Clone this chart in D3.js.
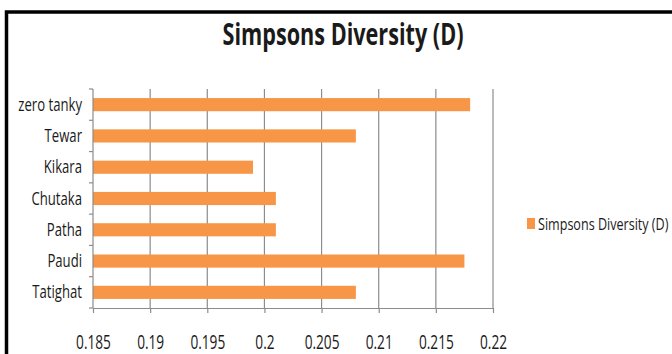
<!DOCTYPE html>
<html>
<head>
<meta charset="utf-8">
<script src="https://cdn.jsdelivr.net/npm/d3@7"></script>
<style>
  html, body { margin: 0; padding: 0; background: #fff; }
  svg { display: block; }
  text { font-family: "Open Sans", "DejaVu Sans", sans-serif; fill: #1a1a1a; }
</style>
</head>
<body>
<svg id="chart" width="672" height="354"></svg>
<script>
// Sites, top to bottom
const categories = ["zero tanky", "Tewar", "Kikara", "Chutaka", "Patha", "Paudi", "Tatighat"];
// Simpson's diversity index per site
const values = [0.218, 0.208, 0.199, 0.201, 0.201, 0.2175, 0.208];
const tickValues = [0.185, 0.19, 0.195, 0.2, 0.205, 0.21, 0.215, 0.22];
const tickLabels = ["0.185", "0.19", "0.195", "0.2", "0.205", "0.21", "0.215", "0.22"];
const seriesName = "Simpsons Diversity (D)";
const titleText = "Simpsons Diversity (D)";

const W = 672, H = 354;
const margin = { left: 93, top: 89, right: 179, bottom: 46 };
const orange = "#F79646";
const gridColor = "#8c8c8c";

// narrow the glyphs of a text selection to a fraction of their natural width
function condense(sel, factor) {
  sel.each(function () {
    const w = this.getComputedTextLength();
    d3.select(this).attr("textLength", w * factor).attr("lengthAdjust", "spacingAndGlyphs");
  });
}

const svg = d3.select("#chart");

// outer frame (runs off the right and bottom edges)
svg.append("rect")
  .attr("x", 6.5).attr("y", 12)
  .attr("width", 800).attr("height", 500)
  .attr("fill", "none").attr("stroke", "#000").attr("stroke-width", 3.5);

const x = d3.scaleLinear().domain([0.185, 0.22]).range([margin.left, W - margin.right]);
const y = d3.scaleBand().domain(categories).range([margin.top, H - margin.bottom]).paddingInner(0.58).paddingOuter(0.29);
const yEdges = d3.scaleLinear().domain([0, categories.length]).range([margin.top, H - margin.bottom]);

// vertical gridlines
svg.append("g").selectAll("line")
  .data(tickValues.slice(1))
  .join("line")
  .attr("x1", d => x(d)).attr("x2", d => x(d))
  .attr("y1", margin.top).attr("y2", H - margin.bottom)
  .attr("stroke", gridColor).attr("stroke-width", 1.2);

// bars
svg.append("g").selectAll("rect")
  .data(categories)
  .join("rect")
  .attr("x", x(0.185))
  .attr("y", d => y(d))
  .attr("width", (d, i) => x(values[i]) - x(0.185))
  .attr("height", y.bandwidth())
  .attr("fill", orange);

// x axis
const xAxis = d3.axisBottom(x)
  .tickValues(tickValues)
  .tickFormat((d, i) => tickLabels[i])
  .tickSizeInner(5).tickSizeOuter(0);
const gx = svg.append("g").attr("transform", `translate(0,${H - margin.bottom})`).call(xAxis);
gx.select(".domain").attr("stroke", gridColor).attr("stroke-width", 1.2);
gx.selectAll(".tick line").attr("stroke", gridColor).attr("stroke-width", 1.2);
gx.selectAll(".tick text")
  .attr("y", 34).attr("dy", "0.35em")
  .style("font-family", "'Open Sans', sans-serif")
  .style("font-size", "19.5px").attr("fill", "#1a1a1a")
  .call(condense, 0.7);

// y axis: line with tick marks at category boundaries
const gy = svg.append("g");
gy.append("line")
  .attr("x1", margin.left).attr("x2", margin.left)
  .attr("y1", margin.top).attr("y2", H - margin.bottom)
  .attr("stroke", gridColor).attr("stroke-width", 1.2);
gy.selectAll(".ytick")
  .data(d3.range(categories.length + 1))
  .join("line")
  .attr("class", "ytick")
  .attr("x1", margin.left - 4).attr("x2", margin.left)
  .attr("y1", d => yEdges(d)).attr("y2", d => yEdges(d))
  .attr("stroke", gridColor).attr("stroke-width", 1.2);
gy.selectAll(".ylabel")
  .data(categories)
  .join("text")
  .attr("class", "ylabel")
  .attr("x", 82)
  .attr("y", d => y(d) + y.bandwidth() / 2)
  .attr("dy", "0.35em")
  .attr("text-anchor", "end")
  .style("font-size", "17.5px")
  .text(d => d)
  .call(condense, 0.75);

// title
svg.append("text")
  .attr("x", 343).attr("y", 45)
  .attr("text-anchor", "middle")
  .style("font-size", "30px").style("font-weight", "bold")
  .attr("textLength", 241).attr("lengthAdjust", "spacingAndGlyphs")
  .text(titleText);

// legend: swatch plus horizontally narrowed label
const lg = svg.append("g");
lg.append("rect").attr("x", 527).attr("y", 218).attr("width", 8).attr("height", 11).attr("fill", orange);
lg.append("text")
  .attr("transform", "translate(538,224) scale(0.74,1)")
  .attr("dy", "0.35em")
  .style("font-size", "17px")
  .text(seriesName);
</script>
</body>
</html>
